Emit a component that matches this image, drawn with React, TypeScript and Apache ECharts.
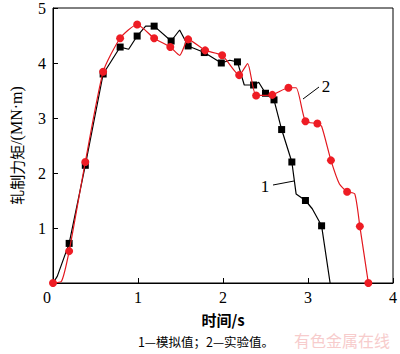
import React, { useEffect, useRef } from "react";
import * as echarts from "echarts";

// Curve 1 — simulated (模拟值)
const simT = [0, 0.05, 0.19, 0.38, 0.59, 0.79, 0.89, 0.99, 1.09, 1.19, 1.39, 1.49, 1.59, 1.78, 1.98, 2.08, 2.17, 2.25, 2.36, 2.42, 2.5, 2.6, 2.69, 2.81, 2.86, 2.97, 3.05, 3.16, 3.26];
const simM = [0, 0.12, 0.72, 2.14, 3.8, 4.29, 4.25, 4.49, 4.67, 4.67, 4.4, 4.6, 4.31, 4.19, 4.0, 4.05, 4.02, 3.6, 3.6, 3.65, 3.45, 3.33, 2.79, 2.2, 1.62, 1.5, 1.35, 1.04, 0];
const simMark = [0, 0, 1, 1, 1, 1, 0, 1, 0, 1, 1, 0, 1, 1, 1, 0, 1, 0, 1, 0, 1, 1, 1, 1, 0, 1, 0, 1, 0];

// Curve 2 — experimental (实验值)
const expT = [0, 0.1, 0.19, 0.38, 0.59, 0.79, 0.99, 1.19, 1.38, 1.49, 1.59, 1.79, 1.99, 2.19, 2.29, 2.39, 2.58, 2.77, 2.86, 2.97, 3.11, 3.16, 3.27, 3.37, 3.46, 3.55, 3.61, 3.71];
const expM = [0, 0.03, 0.58, 2.2, 3.84, 4.45, 4.7, 4.45, 4.29, 4.14, 4.43, 4.23, 4.14, 3.78, 3.99, 3.41, 3.42, 3.55, 3.55, 2.94, 2.9, 2.85, 2.23, 1.8, 1.66, 1.62, 1.03, 0];
const expMark = [1, 0, 1, 1, 1, 1, 1, 1, 1, 0, 1, 1, 1, 1, 0, 1, 1, 1, 0, 1, 1, 0, 1, 0, 1, 0, 1, 1];

const xTicks = { min: 0, max: 4, interval: 1 };
const yTicks = { min: 0, max: 5, interval: 1 };

const xName = "时间/s";
const yNameCJK = "轧制力矩";
const yNameUnit = "/(MN·m)";
const caption = "1—模拟值；2—实验值。";
const watermark = "有色金属在线";

const SERIF = "'Liberation Serif', 'Times New Roman', serif";
const CJK = "'Noto Sans CJK SC', sans-serif";

function build(t: number[], m: number[], mark: number[]) {
  return t.map((x, i) => (mark[i] ? [x, m[i]] : { value: [x, m[i]], symbol: "none" }));
}

export default function App() {
  const ref = useRef<HTMLDivElement>(null);
  useEffect(() => {
    if (!ref.current) return;
    const chart = echarts.init(ref.current, null, { renderer: "svg" });
    const labelStyle = { fontFamily: SERIF, fontSize: 16, color: "#000" };
    chart.setOption({
      animation: false,
      backgroundColor: "#fff",
      grid: {
        left: 46,
        right: 3,
        top: 6,
        bottom: 71,
        show: true,
        borderColor: "#000",
        borderWidth: 1,
        backgroundColor: "transparent",
      },
      xAxis: {
        type: "value",
        ...xTicks,
        axisLine: { lineStyle: { color: "#000", width: 1 } },
        axisTick: { inside: true, length: 5, lineStyle: { color: "#000" } },
        splitLine: { show: false },
        axisLabel: {
          ...labelStyle,
          margin: 6,
          formatter: (v: number) => (v === 0 ? "{z|0}" : String(v)),
          rich: { z: { ...labelStyle, padding: [0, 12, 0, 0] } },
        },
        name: xName,
        nameLocation: "middle",
        nameGap: 29,
        nameTextStyle: { fontFamily: CJK, fontSize: 15, fontWeight: "bold", color: "#000" },
      },
      yAxis: {
        type: "value",
        ...yTicks,
        axisLine: { lineStyle: { color: "#000", width: 1 } },
        axisTick: { inside: true, length: 5, lineStyle: { color: "#000" } },
        splitLine: { show: false },
        axisLabel: { ...labelStyle, margin: 7, showMinLabel: false },
        name: `{c|${yNameCJK}}{u|${yNameUnit}}`,
        nameLocation: "middle",
        nameRotate: 90,
        nameGap: 29,
        nameTextStyle: {
          fontFamily: CJK,
          fontSize: 15,
          color: "#000",
          rich: {
            c: { fontFamily: CJK, fontSize: 15, color: "#000" },
            u: { fontFamily: SERIF, fontSize: 16, color: "#000" },
          },
        },
      },
      series: [
        {
          type: "line",
          name: "1",
          data: build(simT, simM, simMark),
          symbol: "rect",
          symbolSize: 7,
          showAllSymbol: true,
          lineStyle: { color: "#000", width: 1.2 },
          itemStyle: { color: "#000" },
          z: 2,
        },
        {
          type: "line",
          name: "2",
          data: build(expT, expM, expMark),
          symbol: "circle",
          symbolSize: 8,
          showAllSymbol: true,
          smooth: 0.2,
          lineStyle: { color: "#e3171e", width: 1.2 },
          itemStyle: { color: "#ee1c24" },
          z: 3,
        },
      ],
      graphic: [
        { type: "line", shape: { x1: 273, y1: 185, x2: 294, y2: 181 }, style: { stroke: "#000", lineWidth: 1 } },
        { type: "text", x: 265, y: 186, style: { text: "1", fontFamily: SERIF, fontSize: 17, fill: "#000", align: "center", verticalAlign: "middle" } },
        { type: "line", shape: { x1: 303, y1: 99, x2: 319, y2: 87 }, style: { stroke: "#000", lineWidth: 1 } },
        { type: "text", x: 326, y: 86, style: { text: "2", fontFamily: SERIF, fontSize: 17, fill: "#000", align: "center", verticalAlign: "middle" } },
        { type: "text", x: 206, y: 341, style: { text: caption, fontFamily: CJK, fontSize: 12.5, fill: "#000", align: "center", verticalAlign: "middle" } },
        { type: "text", x: 342, y: 340, style: { text: watermark, fontFamily: CJK, fontSize: 16, fill: "#f7cccc", align: "center", verticalAlign: "middle" } },
      ],
    });
    return () => chart.dispose();
  }, []);
  return <div ref={ref} style={{ width: 400, height: 354, position: "absolute", left: 0, top: 0 }} />;
}
